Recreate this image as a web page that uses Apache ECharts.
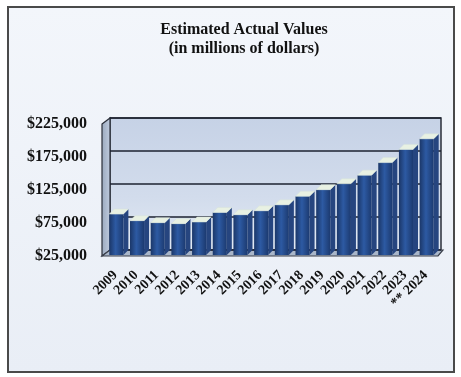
<!DOCTYPE html>
<html>
<head>
<meta charset="utf-8">
<script src="https://cdn.jsdelivr.net/npm/echarts@6/dist/echarts.min.js"></script>
<style>
  html, body { margin: 0; padding: 0; background: #ffffff; }
  #chart { width: 461px; height: 377px; }
</style>
</head>
<body>
<div id="chart"></div>
<script>
// Estimated actual values by year, in millions of dollars
const years = ['2009', '2010', '2011', '2012', '2013', '2014', '2015', '2016',
  '2017', '2018', '2019', '2020', '2021', '2022', '2023', '** 2024'];
const actualValues = [87000, 77000, 74000, 72500, 75000, 89500, 86000, 92000,
  101000, 114000, 124000, 133000, 146000, 165000, 185000, 201000];
const yTicks = [25000, 75000, 125000, 175000, 225000];

const Y_MIN = yTicks[0];
const Y_MAX = yTicks[yTicks.length - 1];
const DEPTH = 5; // pseudo-3D depth offset in px

// plot box (back wall) in px
const G = { left: 110, top: 118, right: 441, bottom: 250 };

const chart = echarts.init(document.getElementById('chart'), null, { renderer: 'canvas' });

const serif = '"Liberation Serif", "DejaVu Serif", serif';

function renderBar(params, api) {
  const i = api.value(0);
  const v = api.value(1);
  const top = api.coord([i, v]);
  const base = api.coord([i, Y_MIN]);
  const band = api.size([1, 0])[0];
  const w = band * 0.68;
  const d = DEPTH;
  const x0 = top[0] - w / 2 - d + 1;
  const x1 = x0 + w;
  const yT = top[1] + d;
  const yB = base[1] + d;
  return {
    type: 'group',
    children: [
      {
        type: 'polygon',
        shape: { points: [[x1, yT], [x1 + d, yT - d], [x1 + d, yB - d], [x1, yB]] },
        style: { fill: '#26457f' }
      },
      {
        type: 'rect',
        shape: { x: x0, y: yT, width: w, height: yB - yT },
        style: {
          fill: new echarts.graphic.LinearGradient(0, 0, 1, 0, [
            { offset: 0, color: '#1b3769' },
            { offset: 0.45, color: '#2d5aa3' },
            { offset: 1, color: '#1c3a70' }
          ])
        }
      },
      {
        type: 'polygon',
        shape: { points: [[x0, yT], [x0 + d, yT - d], [x1 + d, yT - d], [x1, yT]] },
        style: { fill: '#e8f1e3', stroke: '#d6e2da', lineWidth: 0.5 }
      }
    ]
  };
}

const option = {
  backgroundColor: '#ffffff',
  animation: false,
  title: {
    text: 'Estimated Actual Values\n(in millions of dollars)',
    left: 239,
    top: 15,
    textAlign: 'center',
    textStyle: {
      fontFamily: serif,
      fontWeight: 'bold',
      fontSize: 16,
      lineHeight: 19,
      color: '#111111'
    }
  },
  graphic: [
    {
      type: 'rect',
      z: -10,
      shape: { x: 8, y: 7, width: 446, height: 365 },
      style: {
        fill: new echarts.graphic.LinearGradient(0, 0, 0, 1, [
          { offset: 0, color: '#f3f6fb' },
          { offset: 1, color: '#e9eef6' }
        ]),
        stroke: '#4a4a4a',
        lineWidth: 2
      }
    },
    // back wall
    {
      type: 'rect',
      z: -5,
      shape: { x: G.left, y: G.top, width: G.right - G.left, height: G.bottom - G.top },
      style: {
        fill: new echarts.graphic.LinearGradient(0, 0, 0, 1, [
          { offset: 0, color: '#c6d2e6' },
          { offset: 0.6, color: '#d2dcec' },
          { offset: 1, color: '#e2eaf4' }
        ]),
        stroke: '#2b2f3a',
        lineWidth: 1.5
      }
    },
    // left side wall
    {
      type: 'polygon',
      z: -5,
      shape: { points: [[G.left - 8, G.top + 6], [G.left, G.top], [G.left, G.bottom], [G.left - 8, G.bottom + 6]] },
      style: {
        fill: new echarts.graphic.LinearGradient(0, 0, 1, 0, [
          { offset: 0, color: '#9aa8bd' },
          { offset: 1, color: '#c0ccdf' }
        ]),
        stroke: '#2b2f3a',
        lineWidth: 1.2
      }
    },
    // floor
    {
      type: 'polygon',
      z: -4,
      shape: { points: [[G.left - 8, G.bottom + 6], [G.left, G.bottom], [G.right + 2, G.bottom], [G.right - 3, G.bottom + 6]] },
      style: { fill: '#a9b6c9', stroke: '#3a3f4a', lineWidth: 1.2 }
    }
  ],
  grid: {
    left: G.left,
    top: G.top,
    width: G.right - G.left,
    height: G.bottom - G.top,
    containLabel: false
  },
  xAxis: {
    type: 'category',
    data: years,
    axisLine: { show: false },
    axisTick: { show: false },
    axisLabel: {
      interval: 0,
      rotate: 45,
      margin: 18,
      color: '#111111',
      formatter: function (v) {
        return '{t|' + v + '}{s|}';
      },
      rich: {
        t: { fontFamily: serif, fontWeight: 'bold', fontSize: 14, color: '#111111' },
        s: { width: 7 }
      }
    }
  },
  yAxis: {
    type: 'value',
    min: Y_MIN,
    max: Y_MAX,
    interval: 50000,
    axisLine: { show: false },
    axisTick: { show: false },
    splitLine: { lineStyle: { color: '#1d2230', width: 1.6 } },
    axisLabel: {
      margin: 23,
      verticalAlign: 'top',
      lineHeight: 11,
      fontFamily: serif,
      fontWeight: 'bold',
      fontSize: 16,
      color: '#111111',
      formatter: function (v) {
        return yTicks.indexOf(v) >= 0 ? '$' + v.toLocaleString('en-US') : '';
      }
    }
  },
  series: [
    {
      type: 'custom',
      renderItem: renderBar,
      encode: { x: 0, y: 1 },
      data: actualValues.map((v, i) => [i, v]),
      z: 5
    }
  ]
};

chart.setOption(option);
</script>
</body>
</html>
